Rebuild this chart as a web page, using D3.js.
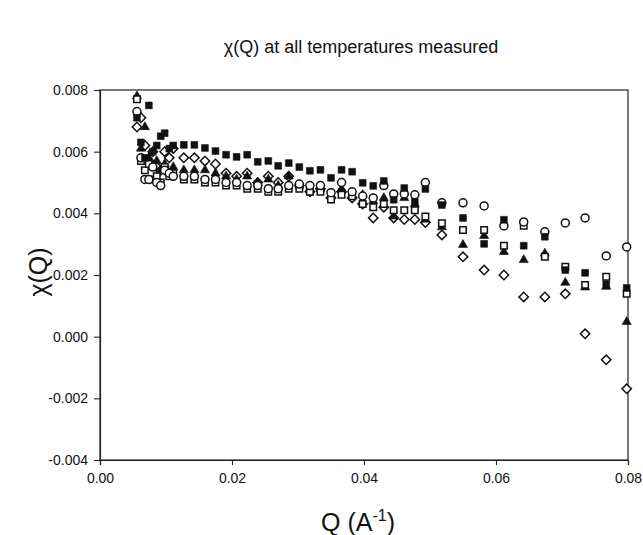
<!DOCTYPE html>
<html>
<head>
<meta charset="utf-8">
<script src="https://cdn.jsdelivr.net/npm/d3@7"></script>
<style>
  body { margin: 0; background: #fff; }
  svg text { font-family: "Liberation Sans", Arial, sans-serif; fill: #111; }
</style>
</head>
<body>
<div id="wrapper"></div>
<script>
// Q values (A^-1), shared by every temperature
const qValues = [
  0.0056, 0.0062, 0.0068, 0.0074, 0.0080, 0.0086, 0.0092, 0.0098, 0.0105, 0.0111,
  0.0127, 0.0143, 0.0159, 0.0175, 0.0191, 0.0207, 0.0223, 0.0239, 0.0255, 0.0270,
  0.0286, 0.0302, 0.0318, 0.0334, 0.0350, 0.0366, 0.0382, 0.0398, 0.0414, 0.0430,
  0.0445, 0.0461, 0.0477, 0.0493,
  0.0518, 0.0550, 0.0582, 0.0612, 0.0642, 0.0674, 0.0705, 0.0735, 0.0767, 0.0798
]

const filledSquares = [
  0.0071, 0.0063, 0.0058, 0.0075, 0.0060, 0.0062, 0.0065, 0.0066, 0.0061, 0.0062,
  0.00622, 0.00622, 0.00612, 0.00602, 0.0059, 0.00583, 0.0059, 0.00567, 0.0057, 0.00554,
  0.00563, 0.0055, 0.00538, 0.00541, 0.00515, 0.00541, 0.00535, 0.00499, 0.00489, 0.00505,
  0.00444, 0.00482, 0.00437, 0.00479,
  0.00427, 0.00385, 0.00301, 0.00379, 0.00295, 0.00324, 0.00216, 0.00207, 0.0017, 0.00158
]

const openCircles = [
  0.0073, 0.0058, 0.0051, 0.0051, 0.0055, 0.0050, 0.0049, 0.0054, 0.0053, 0.0052,
  0.0052, 0.0052, 0.0051, 0.0051, 0.0050, 0.0050, 0.0049, 0.0049, 0.0048, 0.0048,
  0.0049, 0.00495, 0.0049, 0.0049, 0.00467, 0.0050, 0.0047, 0.00456, 0.0045, 0.0049,
  0.00463, 0.00463, 0.0046, 0.0050,
  0.00434, 0.00434, 0.00424, 0.00359, 0.00372, 0.0034, 0.00369, 0.00385, 0.00262, 0.00291
]

const openSquares = [
  0.0077, 0.0057, 0.0054, 0.0056, 0.0051, 0.0052, 0.0050, 0.0055, 0.0052, 0.0053,
  0.0051, 0.0051, 0.0050, 0.0050, 0.0049, 0.0049, 0.0048, 0.0048, 0.0047, 0.0047,
  0.0048, 0.0048, 0.0047, 0.0047, 0.00445, 0.0046, 0.00455, 0.0043, 0.0042, 0.0043,
  0.0041, 0.0041, 0.0041, 0.0039,
  0.00368, 0.00346, 0.00346, 0.00295, 0.0036, 0.00259, 0.00227, 0.00168, 0.00194, 0.00139
]

const filledTriangles = [
  0.0078, 0.0061, 0.0068, 0.0058, 0.0055, 0.0057, 0.0054, 0.0056, 0.0053, 0.0055,
  0.0054, 0.0054, 0.0054, 0.0053, 0.0052, 0.0051, 0.0052, 0.0050, 0.0051, 0.0049,
  0.0052, 0.0049, 0.0048, 0.0048, 0.0046, 0.0048, 0.0046, 0.0046, 0.0044, 0.0045,
  0.0039, 0.0045, 0.0043, 0.0038,
  0.00355, 0.00298, 0.00327, 0.00275, 0.00249, 0.0027, 0.00175, 0.0016, 0.00162, 0.00048
]

const openDiamonds = [
  0.0068, 0.0071, 0.0062, 0.0057, 0.0060, 0.0055, 0.0054, 0.0060, 0.0058, 0.0061,
  0.0058, 0.0058, 0.0057, 0.0056, 0.0053, 0.0052, 0.0053, 0.0050, 0.0052, 0.0050,
  0.0052, 0.0049, 0.0047, 0.0048, 0.0045, 0.0047, 0.0045, 0.0043, 0.00385, 0.0042,
  0.00385, 0.0038, 0.0038, 0.0037,
  0.0033, 0.00259, 0.00216, 0.0020, 0.00129, 0.00129, 0.00139, 0.000094, -0.00075, -0.00169
]

const xTicks = [0, 0.02, 0.04, 0.06, 0.08]
const yTicks = [-0.004, -0.002, 0, 0.002, 0.004, 0.006, 0.008]

// diamonds are squares turned by 45 degrees
const series = [
  {values: openDiamonds, symbol: d3.symbolSquare, size: 44, rotate: 45, filled: false},
  {values: filledTriangles, symbol: d3.symbolTriangle, size: 36, rotate: 0, filled: true},
  {values: openSquares, symbol: d3.symbolSquare, size: 42, rotate: 0, filled: false},
  {values: openCircles, symbol: d3.symbolCircle, size: 50, rotate: 0, filled: false},
  {values: filledSquares, symbol: d3.symbolSquare, size: 46, rotate: 0, filled: true},
]

// dimensions
let dimensions = {
  width: 643,
  height: 535,
  margin: {top: 90, right: 15, bottom: 75, left: 100},
}
dimensions.boundedWidth = dimensions.width - dimensions.margin.left - dimensions.margin.right
dimensions.boundedHeight = dimensions.height - dimensions.margin.top - dimensions.margin.bottom

const wrapper = d3.select("#wrapper")
  .append("svg")
    .attr("width", dimensions.width)
    .attr("height", dimensions.height)

const bounds = wrapper.append("g")
    .attr("transform", `translate(${dimensions.margin.left},${dimensions.margin.top})`)

// scales
const xScale = d3.scaleLinear()
  .domain([0, 0.08])
  .range([0, 528])
const yScale = d3.scaleLinear()
  .domain([-0.004, 0.008])
  .range([370, 0])

// plain hyphen for minus, like the original
const fmt = p => d => d3.format(p)(d).replace("\u2212", "-")

// frame
bounds.append("rect")
  .attr("width", xScale(0.08))
  .attr("height", yScale(-0.004))
  .attr("fill", "none")
  .attr("stroke", "#222")
  .attr("stroke-width", 1.2)

// axes
const xAxis = bounds.append("g")
  .attr("transform", `translate(0,${yScale(-0.004)})`)
  .call(d3.axisBottom(xScale).tickValues(xTicks).tickFormat(fmt(".2f")).tickSize(5).tickPadding(8))
const yAxis = bounds.append("g")
  .call(d3.axisLeft(yScale).tickValues(yTicks).tickFormat(fmt(".3f")).tickSize(6).tickPadding(6))

;[xAxis, yAxis].forEach(ax => {
  ax.select(".domain").attr("stroke", "#222").attr("stroke-width", 1.2)
  ax.selectAll(".tick line").attr("stroke", "#222").attr("stroke-width", 1.1)
  ax.selectAll(".tick text")
    .style("font-family", "Liberation Sans, Arial, sans-serif")
    .style("font-size", "14px")
    .attr("fill", "#111")
})

// points
series.forEach(s => {
  const sym = d3.symbol().type(s.symbol).size(s.size)
  bounds.append("g")
    .selectAll("path")
    .data(qValues.map((q, i) => ({q, v: s.values[i]})))
    .join("path")
      .attr("d", sym)
      .attr("transform", d => `translate(${xScale(d.q)},${yScale(d.v)}) rotate(${s.rotate})`)
      .attr("fill", s.filled ? "#111" : "#fff")
      .attr("stroke", "#111")
      .attr("stroke-width", s.filled ? 0.6 : 1.5)
})

// texts
wrapper.append("text")
  .attr("x", 361)
  .attr("y", 53)
  .attr("text-anchor", "middle")
  .style("font-size", "18px")
  .text("χ(Q) at all temperatures measured")

wrapper.append("text")
  .attr("transform", "translate(47,272) rotate(-90)")
  .attr("text-anchor", "middle")
  .style("font-size", "25px")
  .text("χ(Q)")

const xLabel = wrapper.append("text")
  .attr("x", 358)
  .attr("y", 531)
  .attr("text-anchor", "middle")
  .style("font-size", "25px")
xLabel.append("tspan").text("Q (A")
xLabel.append("tspan").attr("dy", -10).style("font-size", "16px").text("-1")
xLabel.append("tspan").attr("dy", 10).text(")")
</script>
</body>
</html>
